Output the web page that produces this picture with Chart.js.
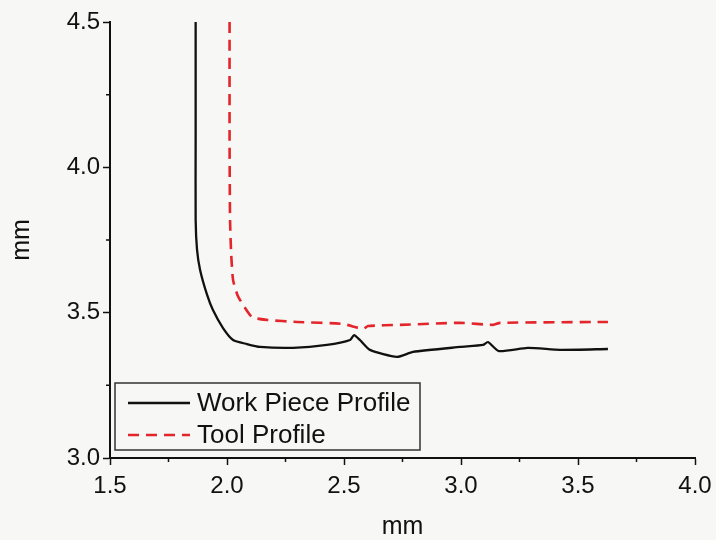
<html>
<head>
    <title>profiles</title>
    <style>
        body {
            margin: 0;
            background: #f7f7f5;
        }
        #box {
            width: 716px;
            height: 540px;
        }
    </style>
</head>
<body>

<script src="https://cdn.jsdelivr.net/npm/chart.js@4.4.1/dist/chart.umd.min.js"></script>

<div id="box">
    <canvas id="profile"></canvas>
</div>

<script>

    // values (mm)
    const xWork = [1.866, 1.866, 1.866, 1.872, 1.885, 1.915, 1.94, 1.983, 2.026, 2.085, 2.141, 2.282, 2.427,
        2.526, 2.543, 2.568, 2.611, 2.726, 2.795, 2.996, 3.094, 3.115, 3.162, 3.286, 3.423, 3.628];
    const yWork = [4.5, 4.1, 3.82, 3.716, 3.647, 3.561, 3.509, 3.447, 3.406, 3.392, 3.382, 3.379, 3.389,
        3.406, 3.423, 3.406, 3.372, 3.348, 3.365, 3.382, 3.389, 3.399, 3.368, 3.379, 3.372, 3.375];

    const xTool = [2.011, 2.011, 2.013, 2.018, 2.026, 2.045, 2.064, 2.107, 2.171, 2.30, 2.496, 2.581, 2.603,
        2.739, 2.996, 3.137, 3.167, 3.628];
    const yTool = [4.5, 4.1, 3.82, 3.70, 3.612, 3.56, 3.533, 3.485, 3.475, 3.468, 3.461, 3.444, 3.454,
        3.458, 3.465, 3.458, 3.465, 3.468];

    const seriesNames = ['Work Piece Profile', 'Tool Profile'];
    const xTicks = [1.5, 2.0, 2.5, 3.0, 3.5, 4.0];
    const yTicks = [3.0, 3.5, 4.0, 4.5];

    const FONT = '"Liberation Sans", Arial, sans-serif';

    function pairs(xs, ys) {
        return xs.map((x, i) => ({x: x, y: ys[i]}));
    }

    // minor ticks half way between the labelled ones, plus the boxed legend
    const extras = {
        id: 'extras',
        afterDraw(chart) {
            const ctx = chart.ctx;
            const xs = chart.scales.x, ys = chart.scales.y;
            const area = chart.chartArea;
            ctx.save();
            ctx.strokeStyle = '#111';
            ctx.lineWidth = 1.5;
            ctx.beginPath();
            for (let i = 0; i < xTicks.length - 1; i++) {
                const px = xs.getPixelForValue((xTicks[i] + xTicks[i + 1]) / 2);
                ctx.moveTo(px, area.bottom);
                ctx.lineTo(px, area.bottom + 4);
            }
            for (let i = 0; i < yTicks.length - 1; i++) {
                const py = ys.getPixelForValue((yTicks[i] + yTicks[i + 1]) / 2);
                ctx.moveTo(area.left, py);
                ctx.lineTo(area.left - 4, py);
            }
            ctx.stroke();

            // legend
            const bx = area.left + 5, by = area.bottom - 75, bw = 305, bh = 67;
            ctx.fillStyle = '#f7f7f5';
            ctx.fillRect(bx, by, bw, bh);
            ctx.strokeStyle = '#333';
            ctx.lineWidth = 1.5;
            ctx.strokeRect(bx, by, bw, bh);
            ctx.font = '26px ' + FONT;
            ctx.textBaseline = 'middle';
            chart.data.datasets.forEach((ds, i) => {
                const cy = by + 20 + i * 32;
                ctx.strokeStyle = ds.borderColor;
                ctx.lineWidth = ds.borderWidth;
                ctx.setLineDash(ds.borderDash || []);
                ctx.beginPath();
                ctx.moveTo(bx + 13, cy);
                ctx.lineTo(bx + 75, cy);
                ctx.stroke();
                ctx.setLineDash([]);
                ctx.fillStyle = '#111';
                ctx.fillText(ds.label, bx + 82, cy + 1);
            });
            ctx.restore();
        }
    };

    const chart_profile = new Chart(document.getElementById('profile'), {
        type: 'scatter',
        data: {
            datasets: [
                {
                    label: seriesNames[0],
                    data: pairs(xWork, yWork),
                    showLine: true,
                    borderColor: '#111',
                    borderWidth: 2.3,
                    pointRadius: 0,
                    tension: 0.2
                },
                {
                    label: seriesNames[1],
                    data: pairs(xTool, yTool),
                    showLine: true,
                    borderColor: '#e3262c',
                    borderWidth: 2.6,
                    borderDash: [11, 7],
                    pointRadius: 0,
                    tension: 0.2
                }
            ]
        },
        options: {
            responsive: true,
            maintainAspectRatio: false,
            animation: false,
            layout: {
                padding: {left: 0, right: 21, top: 22, bottom: 0}
            },
            plugins: {
                legend: {display: false},
                tooltip: {enabled: false}
            },
            scales: {
                x: {
                    type: 'linear',
                    min: 1.5,
                    max: 4.0,
                    afterFit: function (scale) {
                        scale.height = 82;
                        scale.paddingLeft = 0;
                        scale.paddingRight = 0;
                    },
                    afterBuildTicks: function (scale) {
                        scale.ticks = xTicks.map(v => ({value: v}));
                    },
                    ticks: {
                        color: '#111',
                        font: {family: FONT, size: 24},
                        padding: 7,
                        maxRotation: 0,
                        callback: v => v.toFixed(1)
                    },
                    grid: {
                        drawOnChartArea: false,
                        drawTicks: true,
                        tickLength: 7,
                        tickWidth: 1.5,
                        tickColor: '#111'
                    },
                    border: {display: true, color: '#111', width: 2},
                    title: {
                        display: true,
                        text: 'mm',
                        color: '#111',
                        font: {family: FONT, size: 25, lineHeight: 1},
                        padding: 0
                    }
                },
                y: {
                    type: 'linear',
                    min: 3.0,
                    max: 4.5,
                    afterFit: function (scale) {
                        scale.width = 110;
                    },
                    afterBuildTicks: function (scale) {
                        scale.ticks = yTicks.map(v => ({value: v}));
                    },
                    ticks: {
                        color: '#111',
                        font: {family: FONT, size: 24},
                        padding: 3,
                        callback: v => v.toFixed(1)
                    },
                    grid: {
                        drawOnChartArea: false,
                        drawTicks: true,
                        tickLength: 7,
                        tickWidth: 1.5,
                        tickColor: '#111'
                    },
                    border: {display: true, color: '#111', width: 2},
                    title: {
                        display: true,
                        text: 'mm',
                        color: '#111',
                        font: {family: FONT, size: 25, lineHeight: 1},
                        padding: {top: 10, bottom: 0}
                    }
                }
            }
        },
        plugins: [extras]
    });

</script>

</body>
</html>
